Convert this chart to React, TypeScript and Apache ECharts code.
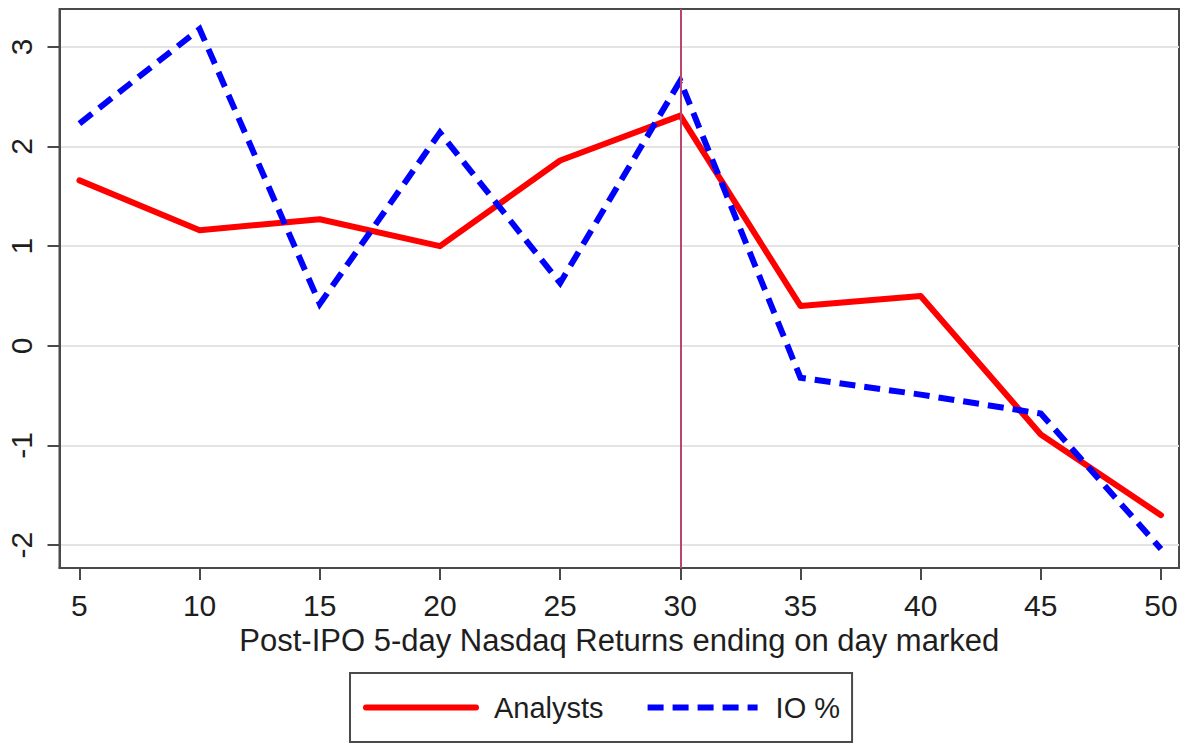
import React, { useEffect, useRef } from "react";
import * as echarts from "echarts";

const days = [5, 10, 15, 20, 25, 30, 35, 40, 45, 50];
const analysts = [1.66, 1.16, 1.27, 1.0, 1.86, 2.31, 0.4, 0.5, -0.89, -1.7];
const ioPct = [2.23, 3.18, 0.42, 2.14, 0.63, 2.66, -0.32, -0.49, -0.68, -2.04];
const yTicks = [-2, -1, 0, 1, 2, 3];
const xTicks = [5, 10, 15, 20, 25, 30, 35, 40, 45, 50];
const markDay = 30;

const FONT = "Liberation Sans, Arial, sans-serif";
const TXT = "#1e1e1e";

export default function App() {
  const ref = useRef<HTMLDivElement>(null);
  useEffect(() => {
    document.body.style.margin = "0";
    const chart = echarts.init(ref.current!, null, { renderer: "svg" });
    chart.setOption({
      animation: false,
      backgroundColor: "#ffffff",
      textStyle: { fontFamily: FONT },
      grid: {
        left: 59.5,
        top: 9,
        right: 4,
        bottom: 177,
        show: true,
        borderColor: "#4a4a4a",
        borderWidth: 2,
      },
      xAxis: {
        type: "value",
        min: 4.17,
        max: 50.75,
        name: "Post-IPO 5-day Nasdaq Returns ending on day marked",
        nameLocation: "middle",
        nameGap: 54,
        nameTextStyle: { fontSize: 31, color: TXT, fontFamily: FONT },
        axisLine: { show: true, onZero: false, lineStyle: { color: "#4a4a4a", width: 2 } },
        axisTick: {
          show: true,
          length: 12,
          customValues: xTicks,
          lineStyle: { color: "#4a4a4a", width: 2 },
        },
        axisLabel: {
          customValues: xTicks,
          fontSize: 30,
          color: TXT,
          margin: 22,
          fontFamily: FONT,
        },
        splitLine: { show: false },
      },
      yAxis: {
        type: "value",
        min: -2.23,
        max: 3.38,
        splitNumber: 5,
        axisLine: { show: true, onZero: false, lineStyle: { color: "#4a4a4a", width: 2 } },
        axisTick: {
          show: true,
          length: 12,
          customValues: yTicks,
          lineStyle: { color: "#4a4a4a", width: 2 },
        },
        axisLabel: {
          customValues: yTicks,
          fontSize: 30,
          color: TXT,
          rotate: 90,
          margin: 23,
          fontFamily: FONT,
        },
        splitLine: { show: true, lineStyle: { color: "#e4e4e4", width: 2 } },
      },
      legend: {
        left: 350,
        top: 673,
        orient: "horizontal",
        itemWidth: 110,
        itemHeight: 14,
        itemGap: 41,
        padding: [20, 12, 20, 13],
        borderColor: "#4a4a4a",
        borderWidth: 2,
        itemStyle: { color: "rgba(0,0,0,0)", borderWidth: 0, opacity: 0 },
        lineStyle: { width: 6 },
        textStyle: { fontSize: 29, color: TXT, fontFamily: FONT, padding: [0, 0, 0, 13] },
        data: ["Analysts", "IO %"],
      },
      series: [
        {
          name: "Analysts",
          type: "line",
          data: days.map((d, i) => [d, analysts[i]]),
          symbol: "none",
          lineStyle: { color: "#ff0000", width: 6, cap: "round", join: "round" },
          itemStyle: { color: "#ff0000" },
          z: 3,
          markLine: {
            silent: true,
            symbol: "none",
            label: { show: false },
            lineStyle: { color: "#bb4470", width: 2, type: "solid" },
            data: [{ xAxis: markDay }],
          },
        },
        {
          name: "IO %",
          type: "line",
          data: days.map((d, i) => [d, ioPct[i]]),
          symbol: "none",
          lineStyle: { color: "#0000ff", width: 6, type: [16, 9], cap: "butt", join: "miter" },
          itemStyle: { color: "#0000ff" },
          z: 4,
        },
      ],
    });
    return () => chart.dispose();
  }, []);
  return <div ref={ref} style={{ width: 1183, height: 745 }} />;
}
